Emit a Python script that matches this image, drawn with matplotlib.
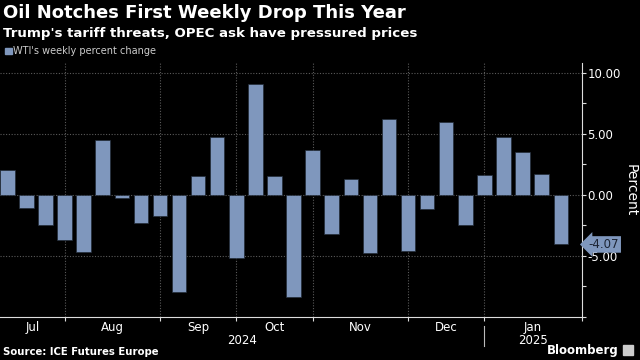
import matplotlib.pyplot as plt
from matplotlib.patches import Rectangle
import matplotlib.transforms as mtransforms
import numpy as np

# weekly % change in WTI, Jul 2024 .. Jan 2025 (one bar per week)
values = [2.0, -1.1, -2.5, -3.7, -4.7, 4.5, -0.3, -2.3, -1.7, -8.0,
          1.5, 4.75, -5.2, 9.1, 1.5, -8.4, 3.7, -3.2, 1.3, -4.8,
          6.2, -4.6, -1.2, 6.0, -2.5, 1.6, 4.7, 3.5, 1.7, -4.07]
months = ['Jul', 'Aug', 'Sep', 'Oct', 'Nov', 'Dec', 'Jan']
month_start = [3, 8, 12, 16, 21, 25]   # bar index of first week in Aug..Jan
years = ['2024', '2025']
yticks = [-5, 0, 5, 10]

bar_color = '#7f97bd'
grid_color = '#5a5a5a'
plt.rcParams['font.family'] = ['DejaVu Sans']

fig = plt.figure(figsize=(6.4, 3.6), dpi=100, facecolor='black')
ax = fig.add_axes([0.0, 0.12, 0.909, 0.705], facecolor='black')

x = np.arange(len(values))
xlim = (-0.38, 30.1)
ax.set_xlim(xlim)
ax.set_ylim(-10, 10.8)

# grid
for yv in yticks:
    ax.axhline(yv, color=grid_color, lw=0.8, ls=(0, (1, 1.5)), zorder=1)
for xv in month_start:
    ax.axvline(xv, color=grid_color, lw=0.8, ls=(0, (1, 1.5)), zorder=1)

ax.bar(x, values, width=0.76, color=bar_color, edgecolor='#222a36', lw=0.5, zorder=2)

# spines
for s in ['top', 'left']:
    ax.spines[s].set_visible(False)
ax.spines['right'].set_color('#dddddd')
ax.spines['bottom'].set_color('#dddddd')

# y axis on the right
ax.yaxis.tick_right()
ax.set_yticks(yticks)
ax.set_yticklabels(['%.2f' % v for v in yticks])
ax.set_yticks([-10, -7.5, -2.5, 2.5, 7.5], minor=True)
ax.tick_params(axis='y', which='both', colors='#dddddd', labelcolor='white',
               labelsize=8.5, length=3, width=0.8, pad=1)
ax.yaxis.set_label_position('right')
ax.set_ylabel('Percent', color='white', fontsize=10, rotation=270, labelpad=12)

# x axis: month boundaries as ticks, month names centred between them
bounds = [xlim[0]] + month_start + [xlim[1]]
ax.set_xticks(month_start + [xlim[1]])
ax.set_xticklabels([])
ax.tick_params(axis='x', which='major', colors='#dddddd', length=3, width=0.8)
mids = [(bounds[i] + bounds[i + 1]) / 2 for i in range(len(months))]
ax.set_xticks(mids, minor=True)
ax.set_xticklabels(months, minor=True)
ax.tick_params(axis='x', which='minor', length=0, labelcolor='white',
               labelsize=8.5, pad=3)

trans = mtransforms.blended_transform_factory(ax.transData, ax.transAxes)
ax.text((xlim[0] + month_start[-1]) / 2, -0.095, years[0], transform=trans,
        ha='center', va='center', color='white', fontsize=8.5)
ax.text((month_start[-1] + xlim[1]) / 2, -0.095, years[1], transform=trans,
        ha='center', va='center', color='white', fontsize=8.5)
ax.plot([month_start[-1]] * 2, [-0.035, -0.115], transform=trans, color='#bbbbbb',
        lw=0.8, clip_on=False)

# last value tag
ax.annotate('%.2f' % values[-1], xy=(1.0, values[-1]),
            xycoords=('axes fraction', 'data'), xytext=(5, 0),
            textcoords='offset points', ha='left', va='center',
            fontsize=8.5, color='#1c2433',
            bbox=dict(boxstyle='larrow,pad=0.15', fc=bar_color, ec='none'))

# titles
fig.text(0.004, 0.965, 'Oil Notches First Weekly Drop This Year', color='white',
         fontsize=13, fontweight='bold', va='center', ha='left')
fig.text(0.004, 0.907, "Trump's tariff threats, OPEC ask have pressured prices",
         color='white', fontsize=9.6, fontweight='bold', va='center', ha='left')

# legend
fig.patches.append(Rectangle((0.008, 0.849), 0.01, 0.018, transform=fig.transFigure,
                             color=bar_color))
fig.text(0.021, 0.858, "WTI's weekly percent change", color='#cccccc',
         fontsize=7, va='center', ha='left')

# footer
fig.text(0.004, 0.022, 'Source: ICE Futures Europe', color='white', fontsize=7.3,
         fontweight='bold', va='center', ha='left')
fig.text(0.966, 0.027, 'Bloomberg', color='white', fontsize=8.5,
         fontweight='bold', va='center', ha='right')
fig.patches.append(Rectangle((0.973, 0.014), 0.016, 0.028, transform=fig.transFigure,
                             color='#cccccc'))

fig.savefig('out.png', dpi=100, facecolor='black')
